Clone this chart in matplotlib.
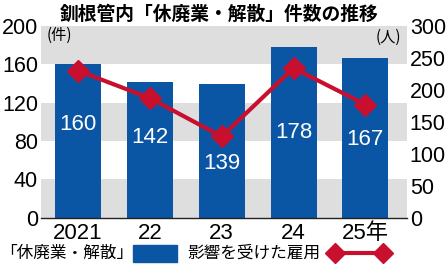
import matplotlib
matplotlib.use("Agg")
import matplotlib.pyplot as plt
from matplotlib.lines import Line2D
from matplotlib.patches import Rectangle

plt.rcParams['font.family'] = ['Liberation Sans', 'Noto Sans CJK JP']

years = ["2021", "22", "23", "24", "25年"]
closures = [160, 142, 139, 178, 167]
employment = [230, 187, 127, 234, 177]
left_ticks = [0, 40, 80, 120, 160, 200]
right_ticks = [0, 50, 100, 150, 200, 250, 300]

label_y = [97.6, 84, 56, 88.6, 81.3]

BLUE = "#0b56a4"
RED = "#c8102e"
GRAY = "#dedede"

fig = plt.figure(figsize=(4.48, 2.65), dpi=100)
ax = fig.add_axes([0.0908, 0.1785, 0.8177, 0.7238])
ax.set_facecolor("white")
for lo in (0, 80, 160):
    ax.axhspan(lo, lo + 40, color=GRAY, lw=0, zorder=0)

x = list(range(len(years)))
ax.bar(x, closures, width=0.64, color=BLUE, zorder=2)
for xi, v, ly in zip(x, closures, label_y):
    ax.text(xi, ly, str(v), color="white", ha="center", va="center",
            fontsize=16, zorder=5)

ax.set_xlim(-0.52, 4.58)
ax.set_ylim(0, 200)
ax.set_yticks(left_ticks)
ax.set_xticks(x)
ax.set_xticklabels(years)
ax.tick_params(axis="y", length=0, labelsize=15.5, pad=2)
ax.tick_params(axis="x", length=0, labelsize=16, pad=4)
for s in ("top", "right", "left"):
    ax.spines[s].set_visible(False)
ax.spines["bottom"].set_color("#222222")
ax.spines["bottom"].set_linewidth(1.0)

ax2 = ax.twinx()
ax2.plot(x, employment, color=RED, lw=3, marker="D", markersize=11, zorder=4)
ax2.set_ylim(0, 300)
ax2.set_yticks(right_ticks)
ax2.tick_params(axis="y", length=0, labelsize=15.5, pad=2)
for s in ("top", "right", "left", "bottom"):
    ax2.spines[s].set_visible(False)

fig.text(0.49, 0.945, "釧根管内「休廃業・解散」件数の推移", ha="center", va="center",
         fontsize=13.5, fontweight="bold", family=["Noto Sans CJK JP"])
fig.text(0.104, 0.865, "(件)", ha="left", va="center", fontsize=11,
         family=["Noto Sans CJK JP"])
fig.text(0.895, 0.858, "(人)", ha="right", va="center", fontsize=11,
         family=["Noto Sans CJK JP"])

# legend
fig.text(0.0, 0.045, "「休廃業・解散」", ha="left", va="center", fontsize=12,
         family=["Noto Sans CJK JP"])
fig.patches.append(Rectangle((133 / 448, 3 / 265), 44 / 448, 17 / 265,
                             transform=fig.transFigure, color=BLUE))
fig.text(187 / 448, 0.045, "影響を受けた雇用", ha="left", va="center", fontsize=12,
         family=["Noto Sans CJK JP"])
fig.lines.append(Line2D([335 / 448, 383 / 448], [12 / 265, 12 / 265],
                        transform=fig.transFigure, color=RED, lw=3,
                        marker="D", markersize=10))

fig.savefig("out.png", dpi=100)
